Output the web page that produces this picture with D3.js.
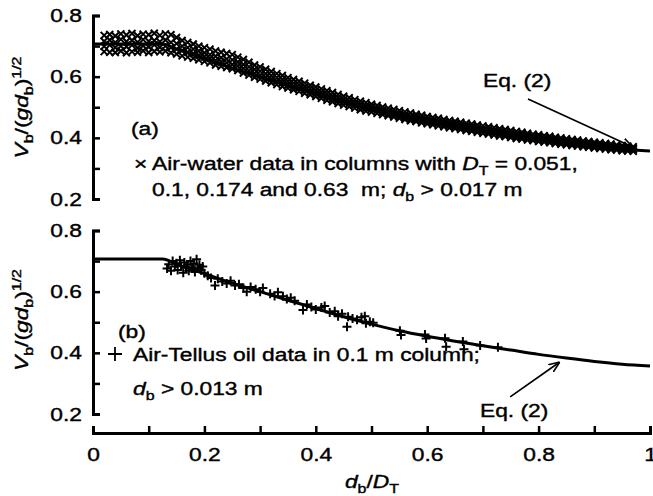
<!DOCTYPE html>
<html>
<head>
<meta charset="utf-8">
<script src="https://cdn.jsdelivr.net/npm/d3@7"></script>
<style>body{margin:0;background:#fff}</style>
</head>
<body>
<script>
// Bubble rise velocity vs d_b/D_T, two panels sharing the x axis

const ratioTicks = [0, 0.1, 0.2, 0.3, 0.4, 0.5, 0.6, 0.7, 0.8, 0.9, 1];
const ratioLabels = [0, 0.2, 0.4, 0.6, 0.8, 1];
const speedTicks = [0.2, 0.3, 0.4, 0.5, 0.6, 0.7, 0.8];
const speedLabels = [0.2, 0.4, 0.6, 0.8];

// Eq. (2)
const eq2Curve = [
  [0, 0.707], [0.125, 0.707], [0.15, 0.690], [0.2, 0.659], [0.25, 0.628],
  [0.3, 0.600], [0.35, 0.572], [0.4, 0.545], [0.45, 0.518], [0.5, 0.494],
  [0.55, 0.472], [0.6, 0.454], [0.65, 0.438], [0.7, 0.423], [0.75, 0.409],
  [0.8, 0.395], [0.85, 0.383], [0.9, 0.372], [0.95, 0.363], [1.0, 0.357]
];

// (a) air-water: the band is so dense that each row is [d_b/D_T, several V values]
const airWaterRows = [
  [0.02, 0.735, 0.716, 0.699, 0.682], [0.03, 0.738, 0.720, 0.703, 0.680],
  [0.04, 0.733, 0.712, 0.695, 0.679], [0.05, 0.740, 0.722, 0.700, 0.684],
  [0.06, 0.736, 0.715, 0.698, 0.678], [0.07, 0.741, 0.719, 0.703, 0.682],
  [0.08, 0.734, 0.713, 0.694, 0.680], [0.09, 0.739, 0.721, 0.701, 0.685],
  [0.10, 0.737, 0.716, 0.697, 0.679], [0.11, 0.742, 0.718, 0.704, 0.683],
  [0.12, 0.735, 0.714, 0.696, 0.681], [0.13, 0.740, 0.720, 0.700, 0.684],
  [0.14, 0.737, 0.712, 0.695, 0.678], [0.15, 0.728, 0.708, 0.690, 0.674],
  [0.16, 0.718, 0.700, 0.686, 0.668], [0.17, 0.712, 0.695, 0.680, 0.664],
  [0.18, 0.707, 0.690, 0.676, 0.660], [0.19, 0.700, 0.684, 0.670, 0.655],
  [0.20, 0.695, 0.678, 0.665, 0.650], [0.21, 0.690, 0.672, 0.660, 0.645],
  [0.22, 0.684, 0.667, 0.653, 0.638], [0.23, 0.680, 0.662, 0.648, 0.634],
  [0.24, 0.676, 0.658, 0.645, 0.630], [0.25, 0.672, 0.655, 0.640, 0.626],
  [0.26, 0.664, 0.648, 0.635, 0.620], [0.27, 0.656, 0.640, 0.627, 0.612],
  [0.28, 0.647, 0.632, 0.619, 0.605], [0.29, 0.638, 0.624, 0.611, 0.598],
  [0.30, 0.632, 0.618, 0.605, 0.592], [0.31, 0.624, 0.610, 0.598, 0.586],
  [0.32, 0.617, 0.603, 0.592, 0.580], [0.33, 0.610, 0.597, 0.586, 0.574],
  [0.34, 0.604, 0.591, 0.580, 0.568], [0.35, 0.597, 0.585, 0.574, 0.563],
  [0.36, 0.591, 0.579, 0.568, 0.557], [0.37, 0.585, 0.573, 0.563, 0.552],
  [0.38, 0.579, 0.567, 0.557, 0.546], [0.39, 0.572, 0.561, 0.551, 0.541],
  [0.40, 0.566, 0.555, 0.545, 0.535], [0.41, 0.560, 0.549, 0.539, 0.529],
  [0.42, 0.554, 0.543, 0.533, 0.523], [0.43, 0.548, 0.537, 0.528, 0.518],
  [0.44, 0.542, 0.531, 0.522, 0.512], [0.45, 0.536, 0.525, 0.517, 0.507],
  [0.46, 0.531, 0.520, 0.512, 0.502], [0.47, 0.525, 0.515, 0.507, 0.497],
  [0.48, 0.520, 0.510, 0.502, 0.492], [0.49, 0.515, 0.505, 0.497, 0.488],
  [0.50, 0.510, 0.500, 0.493, 0.484], [0.51, 0.506, 0.496, 0.489, 0.480],
  [0.52, 0.501, 0.491, 0.484, 0.476], [0.53, 0.497, 0.487, 0.480, 0.472],
  [0.54, 0.493, 0.483, 0.476, 0.468], [0.55, 0.489, 0.479, 0.472, 0.464],
  [0.56, 0.485, 0.475, 0.468, 0.460], [0.57, 0.481, 0.471, 0.464, 0.456],
  [0.58, 0.477, 0.468, 0.461, 0.453], [0.59, 0.474, 0.464, 0.457, 0.449],
  [0.60, 0.470, 0.461, 0.454, 0.446], [0.61, 0.467, 0.458, 0.451, 0.443],
  [0.62, 0.464, 0.454, 0.448, 0.439], [0.63, 0.460, 0.451, 0.444, 0.436],
  [0.64, 0.457, 0.448, 0.441, 0.433], [0.65, 0.454, 0.445, 0.438, 0.430],
  [0.66, 0.451, 0.442, 0.435, 0.427], [0.67, 0.448, 0.439, 0.432, 0.424],
  [0.68, 0.445, 0.436, 0.429, 0.421], [0.69, 0.442, 0.433, 0.426, 0.418],
  [0.70, 0.439, 0.430, 0.423, 0.415], [0.71, 0.436, 0.427, 0.420, 0.412],
  [0.72, 0.433, 0.424, 0.417, 0.409], [0.73, 0.430, 0.421, 0.414, 0.406],
  [0.74, 0.427, 0.418, 0.411, 0.404], [0.75, 0.424, 0.415, 0.409, 0.401],
  [0.76, 0.421, 0.412, 0.406, 0.398], [0.77, 0.418, 0.410, 0.403, 0.396],
  [0.78, 0.415, 0.407, 0.401, 0.393], [0.79, 0.412, 0.404, 0.398, 0.391],
  [0.80, 0.410, 0.402, 0.396, 0.388], [0.81, 0.407, 0.399, 0.393, 0.386],
  [0.82, 0.405, 0.397, 0.391, 0.384], [0.83, 0.402, 0.394, 0.388, 0.381],
  [0.84, 0.400, 0.392, 0.386, 0.379], [0.85, 0.397, 0.390, 0.384, 0.377],
  [0.86, 0.395, 0.388, 0.382, 0.375], [0.87, 0.393, 0.385, 0.380, 0.373],
  [0.88, 0.390, 0.383, 0.377, 0.371], [0.89, 0.388, 0.381, 0.375, 0.369],
  [0.90, 0.386, 0.379, 0.373, 0.367], [0.91, 0.384, 0.377, 0.371, 0.365],
  [0.92, 0.382, 0.375, 0.369, 0.363], [0.93, 0.380, 0.373, 0.367, 0.361],
  [0.94, 0.377, 0.371, 0.365, 0.360], [0.95, 0.375, 0.369, 0.364, 0.358],
  [0.96, 0.373, 0.367, 0.362, 0.357], [0.97, 0.371, 0.366, 0.361, 0.356]
];

// (b) air-Tellus oil points [d_b/D_T, V]
const tellusOil = [
  [0.133, 0.676], [0.136, 0.690], [0.140, 0.668], [0.143, 0.700], [0.147, 0.682],
  [0.150, 0.693], [0.152, 0.671], [0.156, 0.703], [0.158, 0.684], [0.162, 0.662],
  [0.164, 0.695], [0.167, 0.678], [0.170, 0.688], [0.172, 0.668], [0.175, 0.700],
  [0.178, 0.680], [0.181, 0.692], [0.183, 0.664], [0.186, 0.706], [0.188, 0.676],
  [0.191, 0.688], [0.194, 0.670], [0.197, 0.682], [0.200, 0.660], [0.206, 0.652],
  [0.212, 0.645], [0.219, 0.620], [0.224, 0.642], [0.232, 0.633], [0.240, 0.627],
  [0.247, 0.636], [0.255, 0.620], [0.262, 0.624], [0.270, 0.612], [0.276, 0.600],
  [0.283, 0.615], [0.292, 0.608], [0.300, 0.600], [0.305, 0.612], [0.318, 0.593],
  [0.326, 0.586], [0.332, 0.598], [0.341, 0.585], [0.348, 0.576], [0.355, 0.580],
  [0.362, 0.570], [0.377, 0.540], [0.384, 0.558], [0.392, 0.550], [0.400, 0.542],
  [0.410, 0.548], [0.416, 0.553], [0.425, 0.532], [0.434, 0.536], [0.440, 0.520],
  [0.447, 0.528], [0.456, 0.485], [0.458, 0.518], [0.466, 0.512], [0.474, 0.508],
  [0.482, 0.516], [0.488, 0.520], [0.490, 0.497], [0.497, 0.502], [0.503, 0.498],
  [0.551, 0.472], [0.553, 0.458], [0.596, 0.460], [0.598, 0.447], [0.632, 0.448],
  [0.634, 0.420], [0.664, 0.437], [0.666, 0.412], [0.695, 0.424], [0.727, 0.418]
];

const W = 653, H = 496;
const FONT = "'Liberation Sans', Arial, Helvetica, sans-serif";
const FS = 19;     // font size
const SX = 1.2;    // the printed Helvetica is wider than Arial
const INK = 0.4;   // extra stroke so text is as heavy as the print

const svg = d3.select("body").append("svg")
  .attr("width", W).attr("height", H)
  .style("font-family", FONT);

const x = d3.scaleLinear().domain([0, 1]).range([93, 650]);
const yTop = d3.scaleLinear().domain([0.2, 0.8]).range([199, 15.5]);
const yBot = d3.scaleLinear().domain([0.2, 0.8]).range([414, 230.5]);

// widen glyphs about their anchor point
function stretch(sel) {
  sel.each(function () {
    const t = d3.select(this);
    const tx = +t.attr("x") || 0, ty = +t.attr("y") || 0;
    t.attr("x", null).attr("y", null)
     .attr("transform", `translate(${tx},${ty}) scale(${SX},1)`);
  });
}

function styleAxis(g) {
  g.attr("font-size", FS).attr("font-family", FONT);
  g.select(".domain").attr("stroke-width", 3).attr("stroke-linejoin", "miter");
  g.selectAll(".tick line").attr("stroke-width", 2.5);
  g.selectAll(".tick text").attr("fill", "#000").attr("stroke", "#000").attr("stroke-width", INK);
  stretch(g.selectAll(".tick text"));
}

function yAxis(scale) {
  svg.append("g")
    .attr("transform", "translate(93,0)")
    .call(d3.axisLeft(scale).tickValues(speedTicks)
      .tickSizeInner(-7).tickSizeOuter(-7).tickPadding(11)
      .tickFormat(d => speedLabels.includes(d) ? d3.format(".1f")(d) : ""))
    .call(styleAxis);
}
yAxis(yTop);
yAxis(yBot);

svg.append("g")
  .attr("transform", "translate(0,433)")
  .call(d3.axisBottom(x).tickValues(ratioTicks)
    .tickSizeInner(-7).tickSizeOuter(-7).tickPadding(15)
    .tickFormat(d => ratioLabels.includes(d) ? d3.format("~g")(d) : ""))
  .call(styleAxis);

// Eq. (2) curves
function curve(yScale) {
  svg.append("path")
    .datum(eq2Curve)
    .attr("fill", "none")
    .attr("stroke", "#000")
    .attr("stroke-width", 3)
    .attr("d", d3.line().x(d => x(d[0])).y(d => yScale(d[1])).curve(d3.curveMonotoneX));
}
curve(yTop);
curve(yBot);

// (a) crosses
const airWater = airWaterRows.flatMap(r => r.slice(1).map(v => [r[0], v]));
svg.append("g").selectAll("path")
  .data(airWater)
  .enter().append("path")
  .attr("transform", d => `translate(${x(d[0])},${yTop(d[1])})`)
  .attr("d", "M-3.5,-3.5L3.5,3.5M-3.5,3.5L3.5,-3.5")
  .attr("stroke", "#000")
  .attr("stroke-width", 2);

// (b) plus signs
svg.append("g").selectAll("path")
  .data(tellusOil)
  .enter().append("path")
  .attr("transform", d => `translate(${x(d[0])},${yBot(d[1])})`)
  .attr("d", "M-4.5,0H4.5M0,-4.5V4.5")
  .attr("stroke", "#000")
  .attr("stroke-width", 2);

// arrows to the curves
svg.append("defs").append("marker")
  .attr("id", "head")
  .attr("viewBox", "0 0 10 10")
  .attr("refX", 10).attr("refY", 5)
  .attr("markerWidth", 11).attr("markerHeight", 11)
  .attr("markerUnits", "userSpaceOnUse")
  .attr("orient", "auto")
  .append("path")
  .attr("d", "M0,1L10,5L0,9")
  .attr("fill", "none").attr("stroke", "#000").attr("stroke-width", 1.5);

function arrow(yScale, from, to) {
  svg.append("line")
    .attr("x1", x(from[0])).attr("y1", yScale(from[1]))
    .attr("x2", x(to[0])).attr("y2", yScale(to[1]))
    .attr("stroke", "#000").attr("stroke-width", 1.7)
    .attr("marker-end", "url(#head)");
}
arrow(yTop, [0.781, 0.527], [0.969, 0.370]);
arrow(yBot, [0.749, 0.256], [0.838, 0.370]);

// text with italic / sub / sup parts
function richText(px, py, parts, anchor = "start", rotate = 0) {
  const t = svg.append("text")
    .attr("transform", `translate(${px},${py})` + (rotate ? ` rotate(${rotate})` : "") + ` scale(${SX},1)`)
    .attr("font-size", FS)
    .attr("text-anchor", anchor)
    .attr("stroke", "#000").attr("stroke-width", INK)
    .style("white-space", "pre");
  let shift = 0;
  parts.forEach(p => {
    const s = typeof p === "string" ? p : p[0];
    const kind = typeof p === "string" ? "" : p[1];
    const span = t.append("tspan").text(s);
    const target = kind === "sub" ? 5 : kind === "sup" ? -7 : 0;
    if (target !== shift) { span.attr("dy", target - shift); shift = target; }
    if (kind === "sub" || kind === "sup") span.attr("font-size", FS * 0.7);
    if (kind === "it") span.attr("font-style", "italic");
  });
  return t;
}

const yTitle = [["V", "it"], ["b", "sub"], "/(", ["gd", "it"], ["b", "sub"], ")", ["1/2", "sup"]];
richText(28, 107.5, yTitle, "middle", -90);
richText(28, 320, yTitle, "middle", -90);
richText(372, 488, [["d", "it"], ["b", "sub"], "/", ["D", "it"], ["T", "sub"]], "middle");

richText(131, 135, ["(a)"]);
richText(134, 170, ["×"]);
richText(152, 170, ["Air-water data in columns with ", ["D", "it"], ["T", "sub"], " = 0.051,"]);
richText(152, 196, ["0.1, 0.174 and 0.63  m; ", ["d", "it"], ["b", "sub"], " > 0.017 m"]);
richText(483, 87, ["Eq. (2)"]);

richText(118, 338, ["(b)"]);
// legend plus sign, larger than the data marks
svg.append("path")
  .attr("transform", "translate(115,354)")
  .attr("d", "M-7,0H7M0,-7V7")
  .attr("stroke", "#000").attr("stroke-width", 1.8);
richText(133, 361, ["Air-Tellus oil data in 0.1 m column;"]);
richText(133, 395, [["d", "it"], ["b", "sub"], " > 0.013 m"]);
richText(480, 417, ["Eq. (2)"]);
</script>
</body>
</html>
